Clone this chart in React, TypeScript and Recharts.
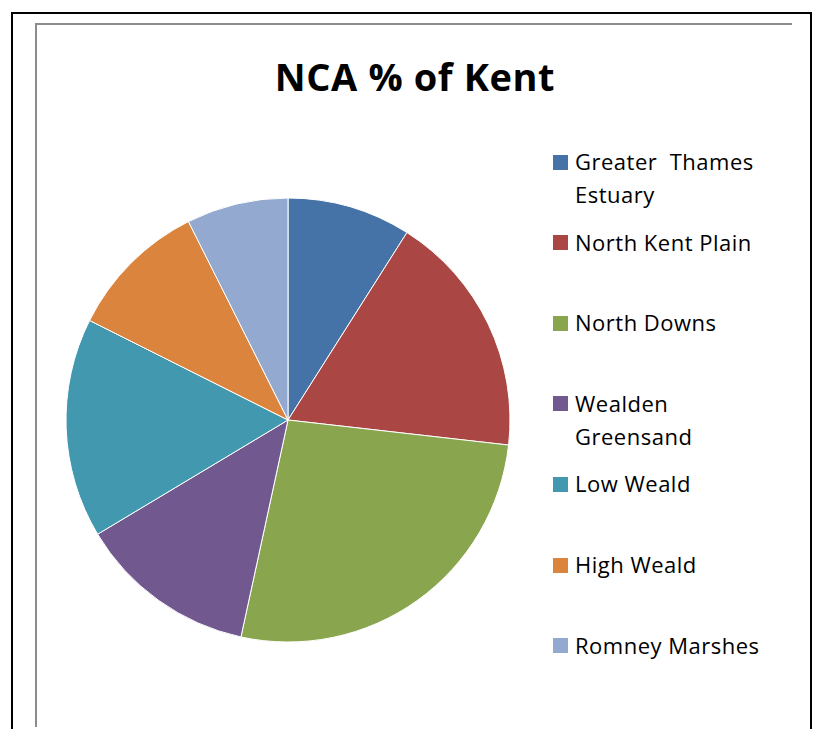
import React from 'react'
import { PieChart, Pie, Cell, Legend } from 'recharts'

const regions = [
  'Greater  Thames Estuary',
  'North Kent Plain',
  'North Downs',
  'Wealden Greensand',
  'Low Weald',
  'High Weald',
  'Romney Marshes',
]

// share of the county, in percent
const shares = [9.0, 17.8, 26.6, 13.0, 16.0, 10.2, 7.4]

const colours = ['#4572A7', '#AA4643', '#89A54E', '#71588F', '#4198AF', '#DB843D', '#93A9CF']

const data = regions.map((name, i) => ({ name, value: shares[i] }))

const FONT = '"Open Sans", "Noto Sans", sans-serif'

function KentLegend() {
  return (
    <div style={{ position: 'relative', width: 240, height: 540, fontFamily: FONT }}>
      {regions.map((name, i) => (
        <div key={name} style={{ position: 'absolute', left: 0, top: i * 80.6, width: 240 }}>
          <div
            style={{
              position: 'absolute',
              left: 0,
              top: 9.5,
              width: 15,
              height: 15,
              background: colours[i],
            }}
          />
          <div
            style={{
              marginLeft: 22,
              width: 196,
              fontSize: 22,
              letterSpacing: 0.5,
              lineHeight: '33px',
              color: '#000',
              whiteSpace: 'pre-wrap',
            }}
          >
            {name}
          </div>
        </div>
      ))}
    </div>
  )
}

export default function App() {
  return (
    <div
      style={{
        position: 'fixed',
        left: 0,
        top: 0,
        width: 817,
        height: 729,
        background: '#fff',
        overflow: 'hidden',
      }}
    >
      <div
        style={{
          position: 'absolute',
          left: 11,
          top: 12,
          width: 797,
          height: 740,
          border: '2px solid #000',
          borderBottom: 'none',
        }}
      />
      <div
        style={{
          position: 'absolute',
          left: 35,
          top: 23,
          width: 755,
          height: 702,
          borderTop: '2px solid #8c8c8c',
          borderLeft: '2px solid #8c8c8c',
        }}
      />
      <div
        style={{
          position: 'absolute',
          left: 215,
          top: 57,
          width: 400,
          textAlign: 'center',
          fontFamily: FONT,
          fontWeight: 700,
          fontSize: 38,
          letterSpacing: 0.6,
          lineHeight: '38px',
          color: '#000',
        }}
      >
        NCA % of Kent
      </div>
      <div style={{ position: 'absolute', left: 0, top: 0 }}>
        <PieChart width={817} height={729} margin={{ top: 0, right: 0, bottom: 0, left: 0 }}>
          <Pie
            data={data}
            dataKey="value"
            nameKey="name"
            cx={288}
            cy={420}
            outerRadius={222}
            startAngle={90}
            endAngle={-270}
            stroke="#fff"
            strokeWidth={1}
            isAnimationActive={false}
          >
            {data.map((d, i) => (
              <Cell key={d.name} fill={colours[i]} />
            ))}
          </Pie>
          <Legend
            layout="vertical"
            align="right"
            verticalAlign="top"
            content={() => <KentLegend />}
            wrapperStyle={{ left: 553, top: 145, width: 240, right: 'auto' }}
          />
        </PieChart>
      </div>
    </div>
  )
}
